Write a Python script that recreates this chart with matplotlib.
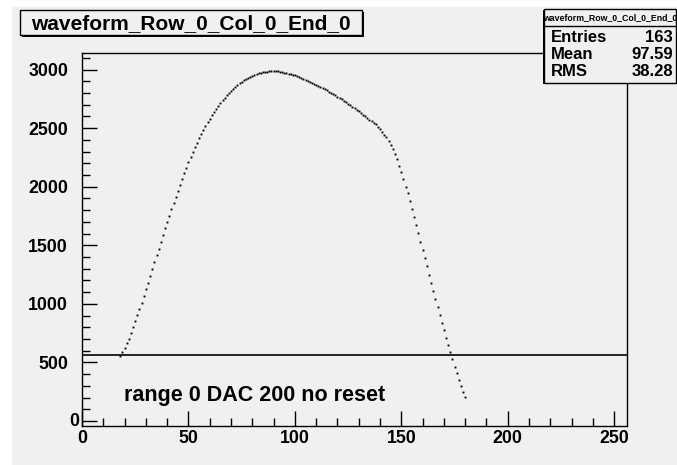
import matplotlib
matplotlib.use("Agg")
import matplotlib.pyplot as plt
from matplotlib.patches import Rectangle
from matplotlib.lines import Line2D
from matplotlib.ticker import MultipleLocator, FuncFormatter

# ---- data -------------------------------------------------------------
hist_title = "waveform_Row_0_Col_0_End_0"
sample_bins = list(range(18, 181))
adc_counts = [
    555, 587, 623, 663, 703, 754, 800, 851, 902, 956,            # 18-27
    1010, 1067, 1125, 1181, 1241, 1298, 1358, 1415, 1472, 1529,  # 28-37
    1588, 1645, 1699, 1753, 1808, 1862, 1916, 1967, 2018, 2067,  # 38-47
    2115, 2163, 2209, 2252, 2294, 2337, 2374, 2414, 2451, 2488,  # 48-57
    2520, 2551, 2581, 2610, 2638, 2665, 2691, 2716, 2739, 2761,  # 58-67
    2782, 2802, 2821, 2838, 2854, 2869, 2883, 2896, 2908, 2919,  # 68-77
    2930, 2939, 2948, 2956, 2963, 2969, 2974, 2978, 2981, 2984,  # 78-87
    2986, 2987, 2988, 2987, 2985, 2981, 2977, 2973, 2969, 2964,  # 88-97
    2959, 2955, 2950, 2942, 2934, 2926, 2917, 2909, 2900, 2891,  # 98-107
    2883, 2875, 2867, 2859, 2851, 2843, 2833, 2823, 2813, 2802,  # 108-117
    2792, 2781, 2769, 2757, 2746, 2734, 2722, 2710, 2698, 2684,  # 118-127
    2670, 2657, 2643, 2629, 2615, 2602, 2588, 2574, 2561, 2547,  # 128-137
    2533, 2514, 2490, 2467, 2446, 2423, 2394, 2360, 2323, 2280,  # 138-147
    2235, 2180, 2126, 2069, 2001, 1947, 1879, 1813, 1745, 1674,  # 148-157
    1603, 1531, 1463, 1395, 1321, 1247, 1178, 1110, 1042, 974,   # 158-167
    905, 840, 774, 709, 646, 587, 527, 464, 410, 353,            # 168-177
    299, 250, 202,                                               # 178-180
]
threshold_level = 565
stats_names = ["Entries", "Mean", "RMS"]
stats_values = ["163", "97.59", "38.28"]
run_note = "range 0 DAC 200 no reset"

# ---- canvas -------------------------------------------------------------
W, H = 677, 465
PAD = "#f0f0f0"
FONT = "Liberation Sans"


def fx(px):
    return px / W


def fy(py):
    return 1.0 - py / H


fig = plt.figure(figsize=(W / 100, H / 100), dpi=100, facecolor="white")
fig.patches.append(Rectangle((fx(12), 0), 1 - fx(12), fy(7), transform=fig.transFigure,
                             facecolor=PAD, edgecolor="none", zorder=-10))

left, right, top, bottom = 82, 627, 53, 426
ax = fig.add_axes([fx(left), fy(bottom), fx(right - left), (bottom - top) / H])
ax.set_facecolor(PAD)

ax.plot(sample_bins, adc_counts, linestyle="none", marker="s", ms=1.35,
        color="black", mec="none", zorder=3)
ax.axhline(threshold_level, color="black", lw=1.2, zorder=2)

ax.set_xlim(0, 256)
ax.set_ylim(-43, 3142)
ax.xaxis.set_major_locator(MultipleLocator(50))
ax.xaxis.set_minor_locator(MultipleLocator(10))
ax.yaxis.set_major_locator(MultipleLocator(500))
ax.yaxis.set_minor_locator(MultipleLocator(100))
# the zero label on the y axis sits tucked against the frame, drawn separately below
ax.yaxis.set_major_formatter(FuncFormatter(lambda v, pos: "" if abs(v) < 1e-9 else f"{v:.0f}"))
ax.tick_params(which="both", direction="in", top=False, right=False, color="black")
ax.tick_params(axis="x", which="major", length=11, width=1.0, pad=3)
ax.tick_params(axis="y", which="major", length=11, width=1.0, pad=10)
ax.tick_params(which="minor", length=5.5, width=1.0)
for lab in ax.get_xticklabels() + ax.get_yticklabels():
    lab.set_fontfamily(FONT)
    lab.set_fontweight("bold")
    lab.set_fontsize(12.8)
for sp in ax.spines.values():
    sp.set_linewidth(1.0)
    sp.set_color("black")

fig.text(fx(79), fy(421), "0", fontfamily=FONT, fontweight="bold", fontsize=12.8,
         ha="right", va="center")

ax.text(19.5, 214, run_note, fontfamily=FONT, fontweight="bold", fontsize=15.5,
        ha="left", va="center", transform=ax.transData)

# ---- title box ----------------------------------------------------------
tx0, ty0, tx1, ty1 = 20, 10, 362, 35
fig.patches.append(Rectangle((fx(tx0 + 2), fy(ty1 + 2)), fx(tx1 - tx0), (ty1 - ty0) / H,
                             transform=fig.transFigure, facecolor="black", edgecolor="none", zorder=5))
fig.patches.append(Rectangle((fx(tx0), fy(ty1)), fx(tx1 - tx0), (ty1 - ty0) / H,
                             transform=fig.transFigure, facecolor=PAD, edgecolor="black",
                             lw=1.0, zorder=6))
fig.text(fx((tx0 + tx1) / 2), fy((ty0 + ty1) / 2 + 1), hist_title, fontfamily=FONT,
         fontweight="bold", fontsize=15, ha="center", va="center", zorder=7)

# ---- statistics box -----------------------------------------------------
sx0, sy0, sx1, sy1 = 544, 9, 676, 83
fig.patches.append(Rectangle((fx(sx0 - 1), fy(sy1 + 1)), fx(sx1 - sx0), (sy1 - sy0) / H,
                             transform=fig.transFigure, facecolor="black", edgecolor="none", zorder=5))
fig.patches.append(Rectangle((fx(sx0), fy(sy1)), fx(sx1 - sx0), (sy1 - sy0) / H,
                             transform=fig.transFigure, facecolor=PAD, edgecolor="black",
                             lw=1.0, zorder=6))
fig.lines.append(Line2D([fx(sx0), fx(sx1)], [fy(26), fy(26)], transform=fig.transFigure,
                        color="black", lw=1.0, zorder=7))
fig.text(fx((sx0 + sx1) / 2), fy(17.5), hist_title, fontfamily=FONT, fontweight="bold",
         fontsize=6.3, ha="center", va="center", zorder=7)
for i, (name, val) in enumerate(zip(stats_names, stats_values)):
    yy = fy(37 + i * 17.5)
    fig.text(fx(551), yy, name, fontfamily=FONT, fontweight="bold", fontsize=12,
             ha="left", va="center", zorder=7)
    fig.text(fx(673), yy, val, fontfamily=FONT, fontweight="bold", fontsize=12,
             ha="right", va="center", zorder=7)

fig.savefig("out.png", dpi=100, facecolor=fig.get_facecolor())
